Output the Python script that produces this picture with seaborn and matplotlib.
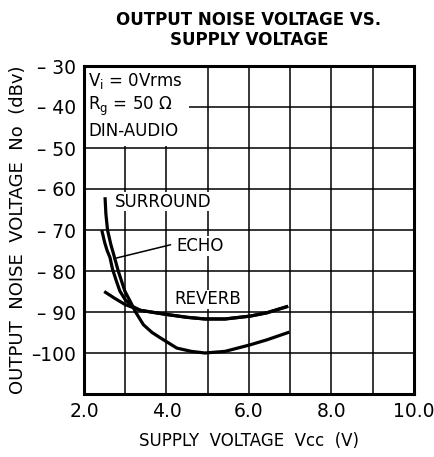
import matplotlib
matplotlib.use("Agg")
import matplotlib.pyplot as plt
from matplotlib.patches import Rectangle
import seaborn as sns
import pandas as pd

sns.set_style("white")
plt.rcParams['font.family'] = ['DejaVu Sans']
plt.rcParams['text.color'] = 'black'
plt.rcParams['axes.labelcolor'] = 'black'
plt.rcParams['xtick.color'] = 'black'
plt.rcParams['ytick.color'] = 'black'

# Data
surround_x = [2.51, 2.53, 2.57, 2.65, 2.74, 2.83, 2.99, 3.12, 3.25, 3.44, 3.65, 3.85, 4.25, 4.6, 4.93, 5.42, 6.03, 6.43, 6.98]
surround_y = [-62.0, -66.0, -70.0, -73.5, -76.7, -80.0, -84.9, -87.4, -90.0, -93.1, -95.0, -96.3, -98.8, -99.6, -100.0, -99.6, -98.0, -96.8, -94.9]

echo_x = [2.43, 2.5, 2.56, 2.63, 2.69, 2.78, 2.87, 3.0, 3.15, 3.37, 4.0, 4.5, 4.93, 5.42, 6.03, 6.43, 6.95]
echo_y = [-70.0, -73.0, -75.0, -76.7, -79.5, -82.3, -84.9, -87.0, -88.5, -89.6, -90.6, -91.3, -91.7, -91.7, -91.0, -90.2, -88.6]

reverb_x = [2.49, 2.75, 3.0, 3.37, 4.0, 4.5, 4.93, 5.42, 6.03, 6.43, 6.95]
reverb_y = [-85.0, -86.7, -88.2, -89.6, -90.6, -91.3, -91.7, -91.7, -91.0, -90.2, -88.6]

x_ticks = [2, 3, 4, 5, 6, 7, 8, 9, 10]
x_ticklabels = ["2.0", "", "4.0", "", "6.0", "", "8.0", "", "10.0"]
y_ticks = [-110, -100, -90, -80, -70, -60, -50, -40, -30]
y_ticklabels = ["", "–100", "– 90", "– 80", "– 70", "– 60", "– 50", "– 40", "– 30"]

title = "OUTPUT NOISE VOLTAGE VS.\nSUPPLY VOLTAGE"
xlabel = "SUPPLY  VOLTAGE  Vcc  (V)"
ylabel = "OUTPUT  NOISE  VOLTAGE  No  (dBv)"

fig = plt.figure(figsize=(4.35, 4.57), dpi=100)
ax = fig.add_axes([84 / 435, (457 - 394) / 457, 330 / 435, 328 / 457])

for xs, ys in [(surround_x, surround_y), (echo_x, echo_y), (reverb_x, reverb_y)]:
    df = pd.DataFrame({"x": xs, "y": ys})
    sns.lineplot(data=df, x="x", y="y", ax=ax, color="black", linewidth=2.3,
                 sort=False, estimator=None, solid_joinstyle="round",
                 solid_capstyle="butt")

ax.set_xlim(2, 10)
ax.set_ylim(-110, -30)
ax.set_xticks(x_ticks)
ax.set_xticklabels(x_ticklabels, fontsize=13.5)
ax.set_yticks(y_ticks)
ax.set_yticklabels(y_ticklabels, fontsize=13.5)
ax.tick_params(length=0, pad=6)
ax.grid(True, color="black", linewidth=1.1)
ax.set_axisbelow(True)
for s in ax.spines.values():
    s.set_linewidth(2.2)
    s.set_color("black")

# blank area behind the condition text block (grid hidden there)
ax.add_patch(Rectangle((2.0, -49.4), 2.55, 19.4, facecolor="white",
                       edgecolor="none", zorder=0.8))

ax.set_xlabel(xlabel, fontsize=12, labelpad=8)
ax.set_ylabel(ylabel, fontsize=13, labelpad=3)
fig.text(249 / 435, 1 - 30 / 457, title, ha="center", va="center",
         fontsize=12, fontweight="bold", linespacing=1.15)

ax.text(2.1, -31.3, "V$_{\\rm i}$ = 0Vrms\nR$_{\\rm g}$ = 50 Ω\nDIN-AUDIO", fontsize=12,
        va="top", ha="left", linespacing=1.25, zorder=3)

ax.text(2.75, -63.1, "SURROUND", fontsize=12, va="center", ha="left",
        bbox=dict(facecolor="white", edgecolor="none", pad=0.5))
ax.text(4.23, -73.9, "ECHO", fontsize=12, va="center", ha="left",
        bbox=dict(facecolor="white", edgecolor="none", pad=0.5))
ax.text(4.2, -86.9, "REVERB", fontsize=12, va="center", ha="left",
        bbox=dict(facecolor="white", edgecolor="none", pad=0.5))
ax.plot([4.1, 2.72], [-73.6, -77.0], color="black", linewidth=1.1)

fig.savefig("out.png", dpi=100)
